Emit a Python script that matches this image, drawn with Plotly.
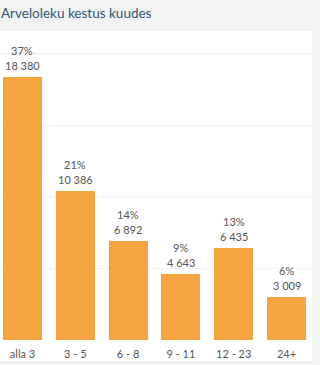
import plotly.graph_objects as go

categories = ["alla 3", "3 - 5", "6 - 8", "9 - 11", "12 - 23", "24+"]
counts = [18380, 10386, 6892, 4643, 6435, 3009]
shares = ["37%", "21%", "14%", "9%", "13%", "6%"]

def fmt(n):
    return f"{n:,}".replace(",", " ")

FONT = "Lato, 'Noto Sans', sans-serif"
TXT = "#555555"
xs = list(range(len(categories)))

fig = go.Figure(go.Bar(
    x=xs,
    y=counts,
    width=0.74,
    marker=dict(color="#F4A542", line=dict(width=0)),
    hoverinfo="skip",
))

annotations = []
for x, c, s in zip(xs, counts, shares):
    annotations.append(dict(x=x, y=c, xref="x", yref="y", text=fmt(c), showarrow=False,
                            yanchor="bottom", yshift=3,
                            font=dict(family=FONT, size=11, color=TXT)))
    annotations.append(dict(x=x, y=c, xref="x", yref="y", text=s, showarrow=False,
                            yanchor="bottom", yshift=18,
                            font=dict(family=FONT, size=11, color=TXT)))

H_PLOT = 309
fig.update_layout(
    width=320, height=365,
    margin=dict(l=0, r=8, t=31, b=25),
    paper_bgcolor="#F3F3F3",
    plot_bgcolor="rgba(0,0,0,0)",
    showlegend=False,
    bargap=0,
    title=dict(
        text="Arveloleku kestus kuudes",
        x=0.003, xanchor="left", y=0.963, yanchor="middle",
        font=dict(family=FONT, size=13.5, color="#2F5676"),
    ),
    annotations=annotations,
    shapes=[dict(
        type="rect", xref="paper", yref="paper",
        x0=0, x1=1, y0=-(361 - 340) / H_PLOT, y1=1,
        fillcolor="white", line=dict(width=0), layer="below",
    )],
)
fig.update_xaxes(
    tickmode="array",
    tickvals=xs,
    ticktext=categories,
    range=[-0.426, 5.483],
    showgrid=False, zeroline=False, showline=False,
    ticks="", ticklen=0,
    ticklabelstandoff=6,
    tickfont=dict(family=FONT, size=11, color=TXT),
)
fig.update_yaxes(
    range=[0, 21600],
    tickvals=[5000, 10000, 15000, 20000],
    showticklabels=False,
    showgrid=True, gridcolor="#F2F2F2", gridwidth=1,
    zeroline=False, showline=False,
)
fig.write_html("out.html")
